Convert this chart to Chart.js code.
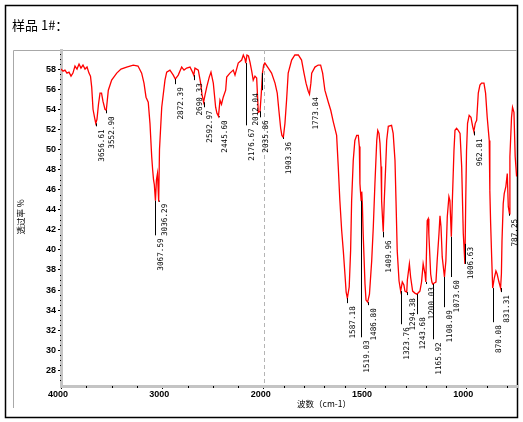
<!DOCTYPE html>
<html lang="zh">
<head>
<meta charset="UTF-8">
<title>样品 1#</title>
<script src="https://cdn.jsdelivr.net/npm/chart.js"></script>
<style>
    body { margin: 0; background: #fff; }
    canvas { display: block; }
</style>
</head>
<body>
<canvas id="irChart" width="523" height="422"></canvas>
<script>
// spectrum (wavenumber cm-1 / transmittance %)
const wavenumbers = [
    4000, 3980, 3961, 3941, 3921, 3901, 3882, 3862, 3842, 3822, 3803, 3783, 3763, 3743, 3724, 3709,
    3697, 3684, 3669, 3657, 3645, 3630, 3615, 3600, 3586, 3566, 3553, 3533, 3500, 3450, 3408, 3352,
    3287, 3240, 3204, 3181, 3161, 3139, 3122, 3105, 3095, 3087, 3079, 3068, 3058, 3048, 3036, 3028,
    3006, 2974, 2957, 2925, 2892, 2872, 2843, 2809, 2786, 2760, 2727, 2707, 2690, 2678, 2645, 2622,
    2609, 2593, 2579, 2562, 2537, 2520, 2497, 2474, 2461, 2446, 2431, 2416, 2399, 2375, 2365, 2333,
    2300, 2283, 2251, 2217, 2201, 2184, 2177, 2165, 2150, 2135, 2118, 2103, 2086, 2069, 2053, 2036,
    2024, 2012, 2000, 1994, 1977, 1961, 1944, 1933, 1925, 1916, 1910, 1903, 1895, 1887, 1879, 1862,
    1846, 1829, 1813, 1801, 1791, 1780, 1774, 1767, 1763, 1747, 1731, 1719, 1709, 1698, 1681, 1669,
    1657, 1640, 1632, 1624, 1615, 1607, 1599, 1593, 1587, 1578, 1571, 1566, 1558, 1550, 1541, 1533,
    1528, 1525, 1523, 1519, 1516, 1513, 1509, 1500, 1495, 1487, 1478, 1467, 1459, 1451, 1442, 1437,
    1431, 1426, 1421, 1418, 1413, 1410, 1405, 1398, 1393, 1385, 1369, 1361, 1352, 1347, 1341, 1332,
    1324, 1316, 1308, 1303, 1294, 1291, 1281, 1275, 1265, 1254, 1244, 1229, 1221, 1213, 1204, 1200,
    1193, 1188, 1185, 1176, 1170, 1166, 1158, 1150, 1144, 1135, 1130, 1125, 1119, 1108, 1101, 1094,
    1086, 1081, 1074, 1069, 1061, 1056, 1048, 1040, 1031, 1023, 1015, 1007, 1003, 999, 994, 986,
    977, 969, 963, 956, 949, 941, 933, 925, 913, 905, 897, 887, 884, 880, 875, 870,
    862, 854, 848, 839, 831, 827, 824, 818, 813, 805, 798, 793, 787, 785, 777, 772,
    765, 759, 752
];
const transmittance = [
    58.0, 57.8, 57.9, 57.6, 57.7, 57.3, 57.6, 58.3, 58.0, 58.5, 58.1, 58.4, 58.0, 58.2, 57.6, 57.3,
    56.2, 54.0, 53.2, 52.6, 53.0, 54.5, 55.6, 55.6, 54.8, 54.0, 53.9, 55.9, 56.9, 57.6, 58.0, 58.2,
    58.4, 58.3, 57.6, 56.6, 55.2, 54.7, 52.6, 49.3, 47.9, 47.0, 46.5, 44.9, 47.0, 47.6, 44.8, 50.0,
    54.2, 56.9, 57.7, 57.9, 57.4, 57.0, 57.4, 58.2, 57.9, 58.1, 58.2, 57.8, 57.4, 58.1, 57.9, 56.6,
    55.5, 54.7, 55.4, 56.2, 57.2, 57.7, 56.6, 54.2, 53.6, 53.3, 54.9, 54.5, 55.2, 55.9, 57.2, 57.6,
    57.9, 57.4, 58.6, 58.9, 59.4, 59.0, 58.6, 59.4, 59.3, 58.7, 57.8, 56.9, 57.3, 57.1, 53.7, 53.8,
    55.5, 57.6, 58.4, 58.6, 58.1, 57.6, 56.6, 55.6, 53.9, 52.1, 51.4, 51.2, 52.6, 54.9, 57.6, 58.9,
    59.4, 59.4, 58.9, 57.6, 56.6, 55.8, 55.5, 56.6, 57.6, 58.2, 58.4, 58.4, 57.6, 55.9, 54.7, 53.9,
    52.8, 51.4, 48.3, 44.9, 41.9, 39.9, 37.6, 35.8, 35.2, 36.3, 39.9, 44.9, 48.9, 50.9, 51.4, 51.4,
    50.3, 46.6, 46.0, 44.9, 45.8, 44.6, 41.6, 36.6, 35.0, 34.8, 35.6, 38.9, 42.3, 46.6, 50.9, 51.9,
    51.6, 50.6, 48.3, 44.9, 42.9, 41.8, 44.9, 48.3, 50.9, 52.3, 52.4, 51.6, 48.9, 44.9, 39.9, 36.9,
    35.9, 36.8, 36.5, 35.9, 35.8, 37.0, 38.6, 37.3, 35.9, 35.7, 35.6, 35.9, 36.8, 38.6, 37.6, 36.8,
    42.9, 43.1, 41.6, 37.6, 36.8, 36.6, 36.7, 36.8, 38.9, 41.6, 43.4, 42.3, 39.3, 37.3, 38.9, 43.3,
    45.3, 44.9, 41.3, 44.9, 49.9, 51.9, 52.1, 51.9, 51.6, 48.3, 41.6, 38.6, 44.9, 49.9, 52.6, 53.4,
    53.2, 52.3, 51.8, 52.6, 52.9, 55.6, 56.4, 56.6, 56.6, 55.6, 53.2, 50.9, 45.9, 42.6, 39.3, 36.2,
    37.2, 37.9, 37.6, 36.8, 36.2, 37.6, 40.9, 44.6, 45.6, 46.3, 47.6, 44.3, 43.6, 49.3, 53.2, 54.2,
    53.7, 49.3, 47.3
];

// peak picks: label, peak transmittance, transmittance where the label text starts
const peakLabels = [
    '3656.61', '3552.90', '3067.59', '3036.29', '2872.39', '2690.33', '2592.97', '2445.60',
    '2176.67', '2035.86', '2012.04', '1903.36', '1773.84', '1587.18', '1519.03', '1486.80',
    '1409.96', '1323.76', '1294.38', '1243.68', '1200.03', '1165.92', '1108.09', '1073.60',
    '1006.63', '962.81', '870.08', '831.31', '787.25'
];
const peakT = [
    52.6, 53.9, 44.9, 44.8, 57.0, 57.4, 54.7, 53.3,
    58.6, 53.8, 57.6, 51.2, 55.5, 35.2, 44.9, 34.8,
    41.8, 35.9, 35.8, 35.6, 36.8, 36.6, 37.3, 41.3,
    38.6, 51.8, 36.2, 36.2, 43.6
];
const labelT = [
    52.0, 53.3, 41.15, 44.6, 56.2, 56.6, 53.9, 52.9,
    52.1, 52.9, 55.6, 50.75, 55.2, 34.4, 31.0, 34.2,
    40.95, 32.3, 35.2, 33.3, 36.3, 30.8, 34.0, 37.0,
    40.3, 51.1, 32.5, 35.5, 43.1
];

const xTickValues = [4000, 3000, 2000, 1500, 1000];
const yTickValues = [28, 30, 32, 34, 36, 38, 40, 42, 44, 46, 48, 50, 52, 54, 56, 58];
const xStart = 4000, xEnd = 750;
const yMin = 26.45, yMax = 59.9;

// the axis is compressed 2:1 above 2000 cm-1
function toAxis(w) {
    return w >= 2000 ? (4000 - w) / 2 : 1000 + (2000 - w);
}
function fromAxis(u) {
    return u <= 1000 ? 4000 - 2 * u : 2000 - (u - 1000);
}

const tickFont = { family: 'Liberation Sans', size: 9, weight: 'bold' };
const leftSideLabels = ['2012.04'];

const decor = {
    id: 'decor',
    beforeDraw(chart) {
        const c = chart.ctx;
        c.save();
        c.fillStyle = '#fff';
        c.fillRect(0, 0, chart.width, chart.height);
        // outer frame
        c.strokeStyle = '#000';
        c.lineWidth = 1.5;
        c.strokeRect(5.5, 5.5, 512, 412);
        // inner panel lines
        c.strokeStyle = '#a8a8a8';
        c.lineWidth = 1;
        c.beginPath();
        c.moveTo(13.5, 408);
        c.lineTo(13.5, 50.5);
        c.lineTo(517, 50.5);
        c.stroke();
        c.fillStyle = '#000';
        c.font = '13px "Noto Sans CJK SC"';
        c.textBaseline = 'middle';
        c.fillText('样品 1#：', 12, 25);
        c.restore();
    },
    beforeDatasetsDraw(chart) {
        const c = chart.ctx;
        const x = chart.scales.x.getPixelForValue(toAxis(2000));
        const area = chart.chartArea;
        c.save();
        c.strokeStyle = '#b4b4b4';
        c.setLineDash([4, 3]);
        c.beginPath();
        c.moveTo(Math.round(x) + 0.5, area.top);
        c.lineTo(Math.round(x) + 0.5, area.bottom);
        c.stroke();
        c.restore();
    },
    afterDraw(chart) {
        const c = chart.ctx;
        const xs = chart.scales.x, ys = chart.scales.y;
        const area = chart.chartArea;
        c.save();
        // minor tick dots on the axis bars
        c.fillStyle = '#000';
        for (let v = 27; v <= 59.5; v += 0.5) {
            if (v % 2 === 0) continue;
            c.fillRect(area.left - 1, Math.round(ys.getPixelForValue(v)), 1, 1);
        }
        for (let w = 3750; w > 2000; w -= 250) {
            if (w % 1000 === 0) continue;
            c.fillRect(Math.round(xs.getPixelForValue(toAxis(w))), area.bottom, 1, 2);
        }
        for (let w = 1900; w > xEnd; w -= 100) {
            if (w % 500 === 0) continue;
            c.fillRect(Math.round(xs.getPixelForValue(toAxis(w))), area.bottom, 1, 2);
        }

        // peak leaders and labels
        c.font = '7.7px "DejaVu Sans Mono"';
        c.textBaseline = 'middle';
        c.textAlign = 'right';
        c.strokeStyle = '#000';
        c.lineWidth = 1;
        peakLabels.forEach((lab, i) => {
            const px = Math.round(xs.getPixelForValue(toAxis(parseFloat(lab)))) + 0.5;
            const py = ys.getPixelForValue(peakT[i]);
            const ty = ys.getPixelForValue(labelT[i]);
            c.beginPath();
            c.moveTo(px, py);
            c.lineTo(px, ty - 3);
            c.stroke();
            const tx = leftSideLabels.includes(lab) ? px - 6 : px + 5.5;
            c.save();
            c.translate(tx, ty);
            c.rotate(-Math.PI / 2);
            c.fillStyle = '#000';
            c.fillText(lab, 0, 0);
            c.restore();
        });

        // axis titles
        c.fillStyle = '#000';
        c.textAlign = 'center';
        c.font = '8.5px "Noto Sans CJK SC"';
        c.fillText('波数（cm-1）', 324, 404);
        c.save();
        c.translate(21, 217);
        c.rotate(-Math.PI / 2);
        c.font = '8.5px "Noto Sans CJK SC"';
        c.fillText('透过率 %', 0, 0);
        c.restore();
        c.restore();
    }
};

const ctx = document.getElementById('irChart').getContext('2d');
const chart = new Chart(ctx, {
    type: 'line',
    data: {
        datasets: [{
            data: wavenumbers.map((w, i) => ({ x: toAxis(w), y: transmittance[i] })),
            borderColor: '#ff0000',
            borderWidth: 1.3,
            pointRadius: 0,
            tension: 0,
            fill: false
        }]
    },
    options: {
        responsive: false,
        animation: false,
        layout: { padding: { top: 50, right: 6, left: 0, bottom: 0 } },
        plugins: {
            legend: { display: false },
            tooltip: { enabled: false }
        },
        scales: {
            x: {
                type: 'linear',
                min: 0,
                max: toAxis(xEnd),
                afterBuildTicks: s => { s.ticks = xTickValues.map(v => ({ value: toAxis(v) })); },
                afterFit: s => { s.height = 36; },
                ticks: {
                    callback: v => String(Math.round(fromAxis(v))),
                    font: tickFont,
                    color: '#000',
                    padding: 0,
                    maxRotation: 0,
                    autoSkip: false,
                    labelOffset: -3
                },
                grid: { display: true, drawOnChartArea: false, drawTicks: true, tickLength: 3, color: '#000' },
                border: { display: true, color: '#c4c4c4', width: 3 }
            },
            y: {
                min: yMin,
                max: yMax,
                afterBuildTicks: s => { s.ticks = yTickValues.map(v => ({ value: v })); },
                afterFit: s => { s.width = 61; },
                ticks: {
                    font: tickFont,
                    color: '#000',
                    padding: 2
                },
                grid: { display: true, drawOnChartArea: false, drawTicks: true, tickLength: 3, color: '#000' },
                border: { display: true, color: '#c4c4c4', width: 3 }
            }
        }
    },
    plugins: [decor]
});
</script>
</body>
</html>
